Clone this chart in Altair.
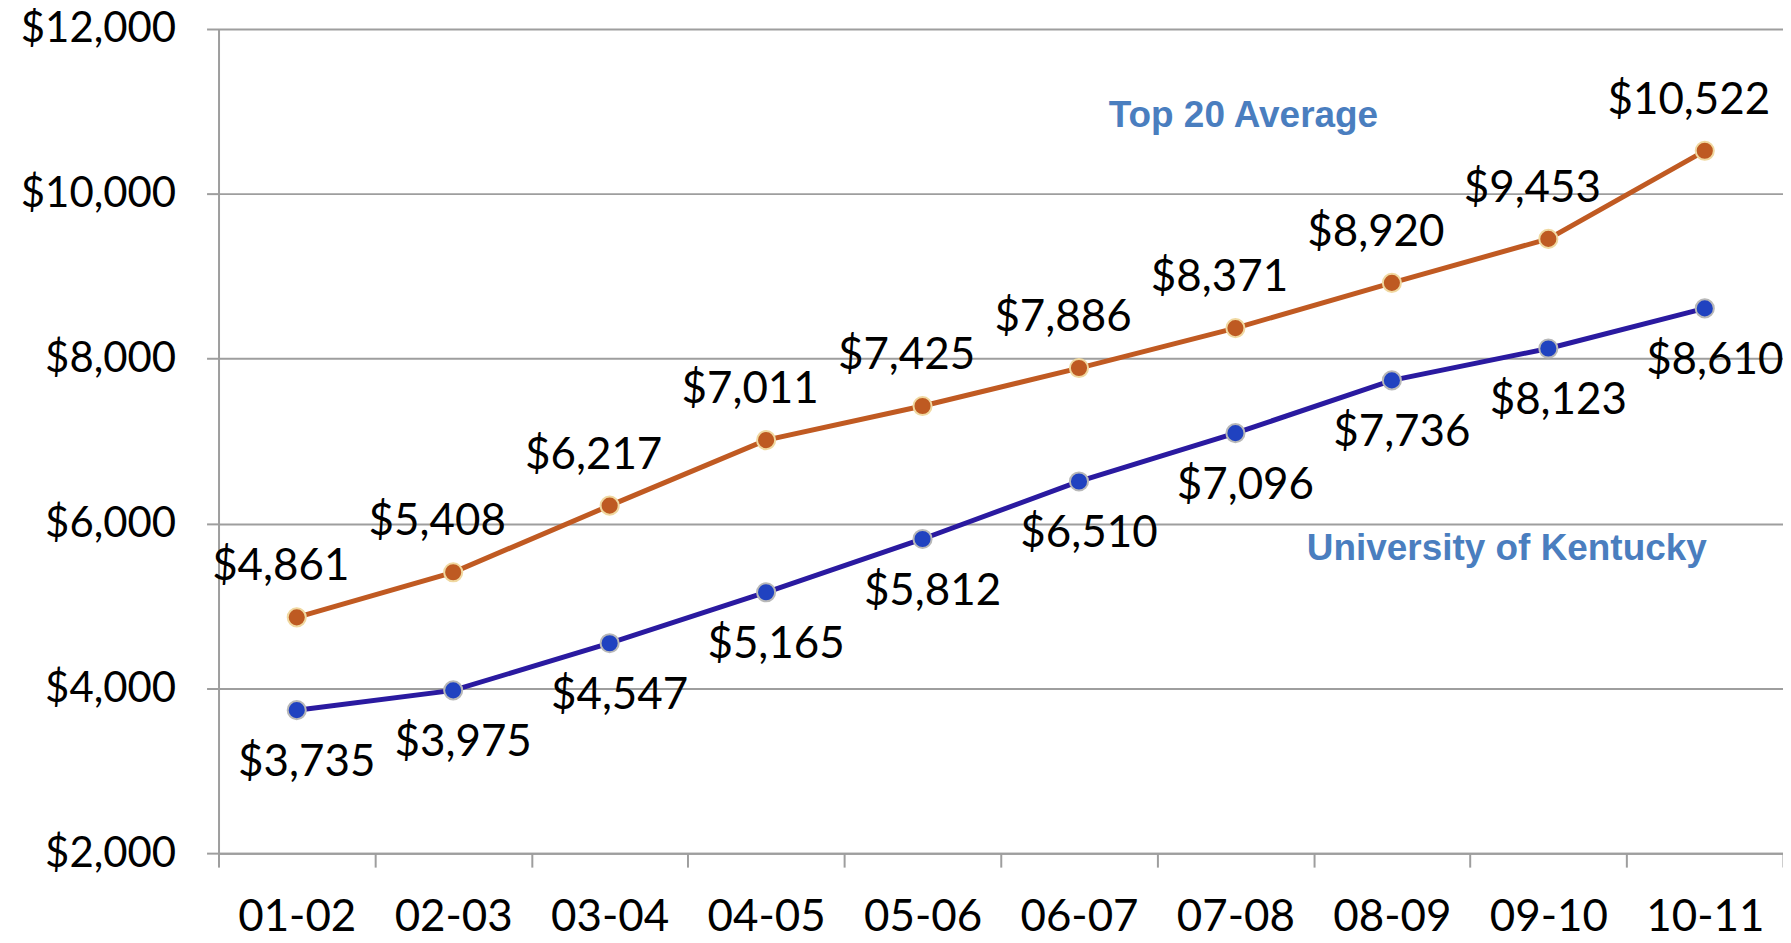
import altair as alt
import pandas as pd

years = ["01-02", "02-03", "03-04", "04-05", "05-06", "06-07", "07-08", "08-09", "09-10", "10-11"]
top20 = [4861, 5408, 6217, 7011, 7425, 7886, 8371, 8920, 9453, 10522]
uk = [3735, 3975, 4547, 5165, 5812, 6510, 7096, 7736, 8123, 8610]
y_ticks = [2000, 4000, 6000, 8000, 10000, 12000]

FONT = "Lato"

df_top = pd.DataFrame({"year": years, "value": top20})
df_top["label"] = ["${:,}".format(v) for v in top20]
df_uk = pd.DataFrame({"year": years, "value": uk})
df_uk["label"] = ["${:,}".format(v) for v in uk]

x_enc = alt.X(
    "year:N",
    sort=years,
    bandPosition=0.5,
    scale=alt.Scale(type="band", paddingInner=0, paddingOuter=0, domain=years),
    axis=alt.Axis(
        title=None,
        labelAngle=0,
        tickBand="extent",
        grid=False,
        labelFont=FONT,
        labelFontSize=44,
        labelColor="#000000",
        labelBaseline="alphabetic",
        labelPadding=64,
        tickSize=14,
        tickWidth=2,
        tickColor="#9E9E9E",
        domainColor="#9E9E9E",
        domainWidth=2,
    ),
)
y_enc = alt.Y(
    "value:Q",
    scale=alt.Scale(domain=[2000, 12000], nice=False, zero=False),
    axis=alt.Axis(
        title=None,
        values=y_ticks,
        format="$,.0f",
        grid=True,
        gridColor="#9E9E9E",
        gridWidth=2,
        labelFont=FONT,
        labelFontSize=42,
        labelColor="#000000",
        labelPadding=31,
        tickSize=12,
        tickWidth=2,
        tickColor="#9E9E9E",
        domainColor="#9E9E9E",
        domainWidth=2,
    ),
)

base_top = alt.Chart(df_top).encode(x=x_enc, y=y_enc)
base_uk = alt.Chart(df_uk).encode(x=x_enc, y=y_enc)

top_line = base_top.mark_line(color="#C05A22", strokeWidth=5)
top_pts = base_top.mark_circle(size=330, color="#BE5A22", stroke="#F0D8A0", strokeWidth=2, opacity=1)
top_txt = base_top.mark_text(font=FONT, fontSize=44, color="#000000", dx=-16, dy=-50).encode(text="label:N")

uk_line = base_uk.mark_line(color="#2A1AA0", strokeWidth=5)
uk_pts = base_uk.mark_circle(size=330, color="#2042C0", stroke="#B8B8B8", strokeWidth=2, opacity=1)
uk_txt = base_uk.mark_text(font=FONT, fontSize=44, color="#000000", dx=10, dy=53).encode(text="label:N")

ann_df = pd.DataFrame({
    "year": ["07-08", "10-11"],
    "value": [10940, 5695],
    "text": ["Top 20 Average", "University of Kentucky"],
})
ann_top = alt.Chart(ann_df.iloc[[0]]).mark_text(
    font="Liberation Sans", fontSize=37, fontWeight="bold", color="#4A7EBF", align="center", dx=8
).encode(x=x_enc, y=y_enc, text="text:N")
ann_uk = alt.Chart(ann_df.iloc[[1]]).mark_text(
    font="Liberation Sans", fontSize=37, fontWeight="bold", color="#4A7EBF", align="right", dx=2
).encode(x=x_enc, y=y_enc, text="text:N")

chart = alt.layer(
    top_line, uk_line, top_pts, uk_pts, top_txt, uk_txt, ann_top, ann_uk
).properties(
    width=1568,
    height=826,
    autosize=alt.AutoSizeParams(type="none"),
    padding={"left": 211, "top": 20, "right": 0, "bottom": 82},
).configure_view(stroke=None).configure(background="#FFFFFF")

chart.save("out.html", embed_options={"renderer": "svg", "actions": False})
